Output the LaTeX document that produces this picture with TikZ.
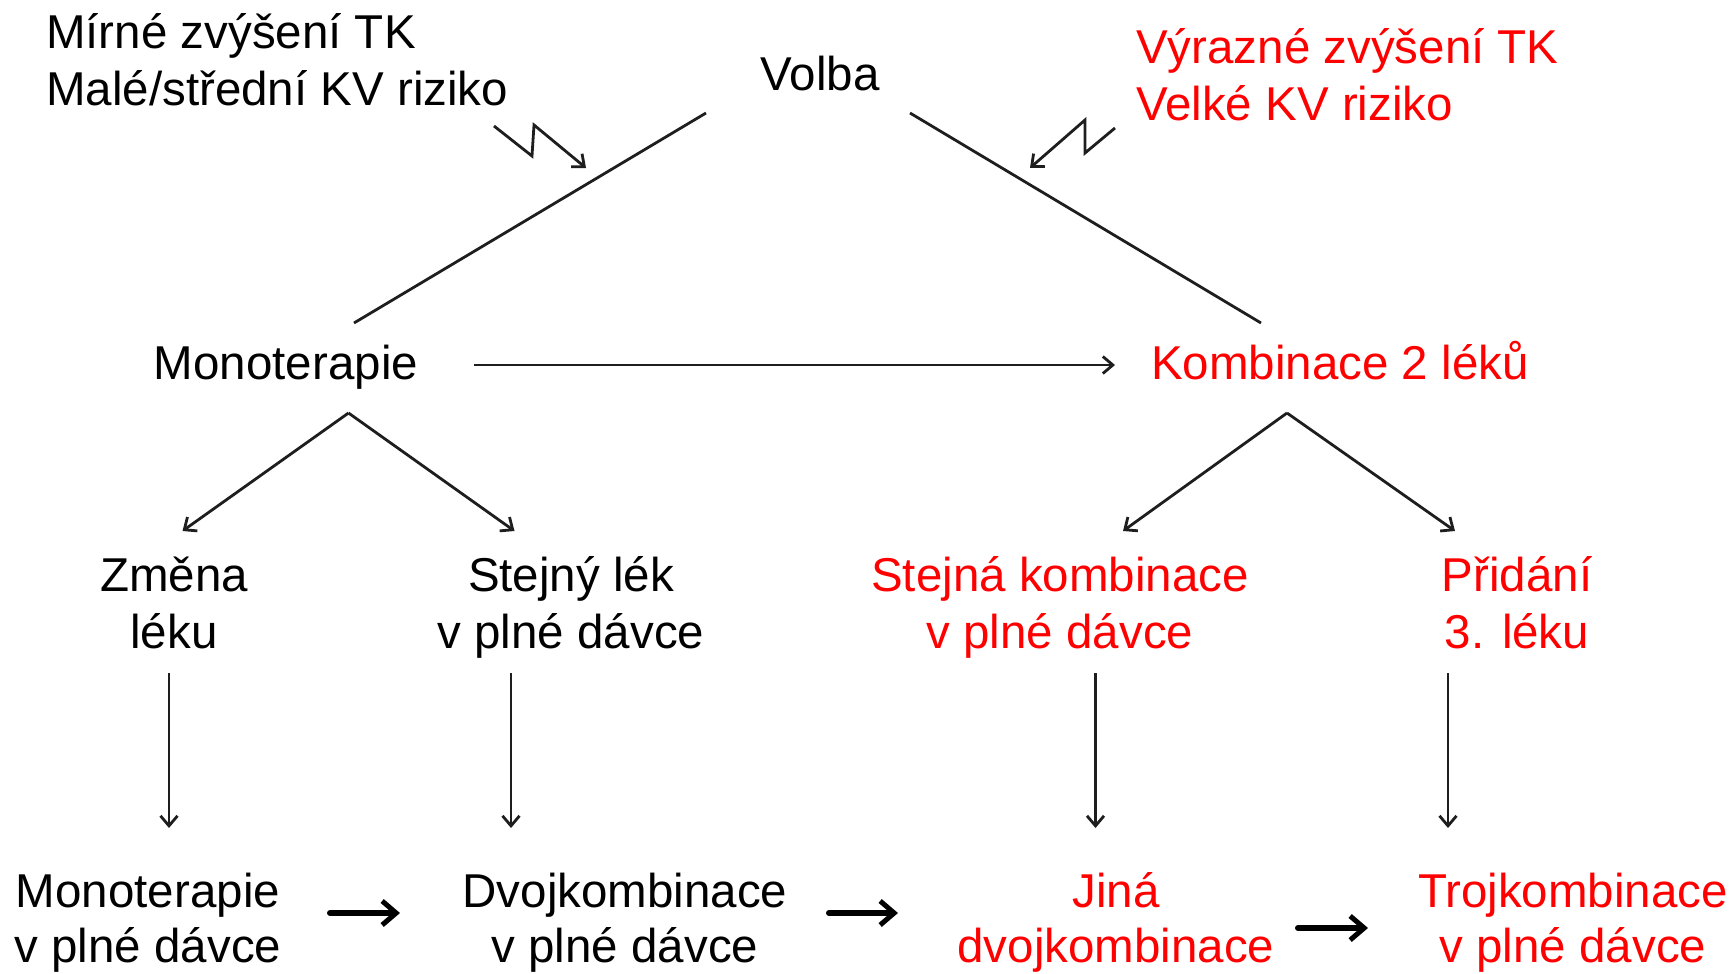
\documentclass[tikz,border=0pt]{standalone}
\usepackage{fontspec}
\setmainfont{Liberation Sans}
\usetikzlibrary{arrows.meta}
\definecolor{myred}{RGB}{255,0,0}
\definecolor{ink}{RGB}{30,30,30}
\begin{document}
\begin{tikzpicture}[x=1pt,y=-1pt,
  lbl/.style={font=\fontsize{47.5}{57}\selectfont, inner sep=0pt, align=center, anchor=base},
  rlbl/.style={lbl, text=myred},
  botlbl/.style={font=\fontsize{47.5}{55}\selectfont},
  thinline/.style={line width=2.8pt, draw=ink},
  tarr/.style={thinline, -{Straight Barb[length=10pt,width=17pt,line width=2.8pt]}},
  fatarr/.style={line width=6pt, draw=black, line cap=round, -{Straight Barb[length=14pt,width=24pt,line width=5pt]}}]
\useasboundingbox (0,0) rectangle (1735,974);

% text nodes (base = baseline of the last line)
\node[lbl, anchor=base west, align=left, font=\fontsize{47.5}{58}\selectfont] (tl) at (46,106) {Mírné zvýšení TK\\Malé/střední KV riziko};
\node[rlbl, anchor=base west, align=left] (tr) at (1136,120) {Výrazné zvýšení TK\\Velké KV riziko};
\node[lbl] (volba) at (820,90) {Volba};
\node[lbl] (mono) at (286,379) {Monoterapie};
\node[rlbl, anchor=base west] (komb) at (1151,379) {Kombinace 2 léků};
\node[lbl] (zmena) at (174,648) {Změna\\léku};
\node[lbl] (stejny) at (571,648) {Stejný lék\\v plné dávce};
\node[rlbl] (stejna) at (1060,648) {Stejná kombinace\\v plné dávce};
\node[rlbl] (pridani) at (1517,648) {Přidání\\3. léku};
\node[lbl, botlbl] (monoplna) at (148,962) {Monoterapie\\v plné dávce};
\node[lbl, botlbl] (dvoj) at (625,962) {Dvojkombinace\\v plné dávce};
\node[rlbl, botlbl] (jina) at (1116,962) {Jiná\\dvojkombinace};
\node[rlbl, botlbl] (troj) at (1573,962) {Trojkombinace\\v plné dávce};

% connector end points
\coordinate (vL) at (706,113);
\coordinate (mT) at (354,323);
\coordinate (vR) at (910,113);
\coordinate (kT) at (1261,323);
\coordinate (mE) at (474,365);
\coordinate (kW) at (1115,365);
\coordinate (mA) at (348.5,413);
\coordinate (zN) at (182.5,531);
\coordinate (sN) at (514.5,531);
\coordinate (kA) at (1287,413);
\coordinate (saN) at (1123,531);
\coordinate (pN) at (1455,531);
\coordinate (zS) at (169,673);   \coordinate (mpN) at (169,828);
\coordinate (sS) at (511,673);   \coordinate (dN) at (511,828);
\coordinate (saS) at (1095.5,673); \coordinate (jN) at (1095.5,828);
\coordinate (pS) at (1448,673);  \coordinate (tN) at (1448,828);
\coordinate (mpE) at (330,913);  \coordinate (dW) at (400,913);
\coordinate (dE) at (829,913);   \coordinate (jW) at (898,913);
\coordinate (jE) at (1298,928);  \coordinate (tW) at (1368,928);
% lightning arrows
\coordinate (l1) at (494,126); \coordinate (l2) at (532,156); \coordinate (l3) at (534,125); \coordinate (l4) at (586,168);
\coordinate (r1) at (1115,128); \coordinate (r2) at (1085,153); \coordinate (r3) at (1085,120); \coordinate (r4) at (1030,168);

% connectors
\draw[thinline] (vL) -- (mT);
\draw[thinline] (vR) -- (kT);
\draw[tarr] (mE) -- (kW);
\draw[tarr] (mA) -- (zN);
\draw[tarr] (mA) -- (sN);
\draw[tarr] (kA) -- (saN);
\draw[tarr] (kA) -- (pN);
\draw[tarr] (zS) -- (mpN);
\draw[tarr] (sS) -- (dN);
\draw[tarr] (saS) -- (jN);
\draw[tarr] (pS) -- (tN);
\draw[tarr] (l1) -- (l2) -- (l3) -- (l4);
\draw[tarr] (r1) -- (r2) -- (r3) -- (r4);
\draw[fatarr] (mpE) -- (dW);
\draw[fatarr] (dE) -- (jW);
\draw[fatarr] (jE) -- (tW);
\end{tikzpicture}
\end{document}
